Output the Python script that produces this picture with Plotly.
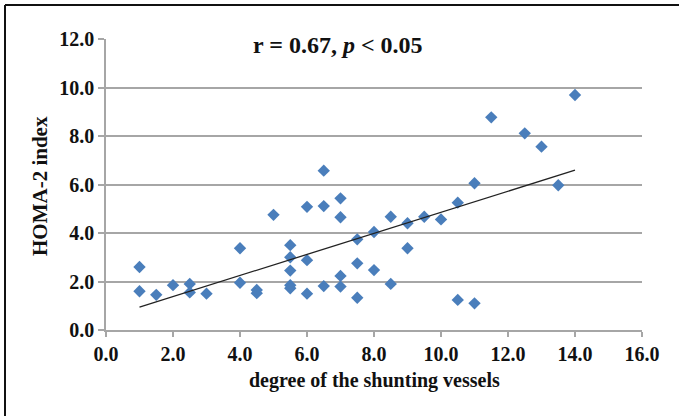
import numpy as np
import plotly.graph_objects as go

# degree of the shunting vessels
x_vals = [1, 1, 1.5, 2, 2.5, 2.5, 3, 4, 4, 4.5, 4.5, 5, 5.5, 5.5, 5.5, 5.5, 5.5,
          6, 6, 6, 6.5, 6.5, 6.5, 7, 7, 7, 7, 7.5, 7.5, 7.5, 8, 8, 8.5, 8.5,
          9, 9, 9.5, 10, 10.5, 10.5, 11, 11, 11.5, 12.5, 13, 13.5, 14]
# HOMA-2 index
y_vals = [2.6, 1.6, 1.45, 1.85, 1.9, 1.55, 1.5, 3.37, 1.95, 1.65, 1.52, 4.75, 3.5, 3.0, 2.45, 1.85, 1.72,
          5.08, 2.88, 1.5, 6.57, 5.11, 1.81, 5.43, 4.65, 2.23, 1.79, 3.74, 2.75, 1.33, 4.04, 2.47, 4.67, 1.9,
          4.4, 3.37, 4.67, 4.56, 5.25, 1.24, 6.05, 1.1, 8.77, 8.11, 7.56, 5.97, 9.69]

x_ticks = [0, 2, 4, 6, 8, 10, 12, 14, 16]
y_ticks = [0, 2, 4, 6, 8, 10, 12]

slope, intercept = np.polyfit(x_vals, y_vals, 1)
trend_x = [min(x_vals), max(x_vals)]
trend_y = [slope * v + intercept for v in trend_x]

font_fam = "Liberation Serif"
txt_col = "#111111"
grid_col = "#a6a6a6"

# plot area in pixels
L, R, T, B = 106, 642, 39, 330
W, H = R - L, B - T

def px_x(p):
    return (p - L) / W

def px_y(p):
    return (B - p) / H

fig = go.Figure()
fig.add_trace(go.Scatter(
    x=x_vals, y=y_vals, mode="markers",
    marker=dict(symbol="diamond", size=9.5, color="#4a7ebb"),
    showlegend=False, hoverinfo="skip"))
fig.add_trace(go.Scatter(
    x=trend_x, y=trend_y, mode="lines",
    line=dict(color="#222222", width=1.3),
    showlegend=False, hoverinfo="skip"))

fig.update_layout(
    width=679, height=416,
    margin=dict(l=L, r=679 - R, t=T, b=416 - B),
    paper_bgcolor="white", plot_bgcolor="white",
    font=dict(family=font_fam, color=txt_col),
    xaxis=dict(
        range=[0, 16], tickvals=x_ticks,
        ticktext=[f"<b>{v:.1f}</b>" for v in x_ticks],
        showgrid=False, zeroline=False, automargin=False,
        showline=True, linecolor=grid_col, linewidth=1.5,
        ticks="outside", ticklen=5, tickcolor=grid_col, tickwidth=1.5,
        tickfont=dict(family=font_fam, size=20, color=txt_col),
    ),
    yaxis=dict(
        range=[0, 12], tickvals=y_ticks,
        ticktext=[f"<b>{v:.1f}</b>" for v in y_ticks],
        showgrid=True, gridcolor=grid_col, gridwidth=1.5,
        zeroline=False, automargin=False,
        showline=True, linecolor=grid_col, linewidth=1.5,
        ticks="outside", ticklen=6, tickcolor=grid_col, tickwidth=1.5,
        tickfont=dict(family=font_fam, size=20, color=txt_col),
    ),
    annotations=[
        dict(text="<b>r = 0.67, <i>p</i> < 0.05</b>",
             x=px_x(338), y=px_y(45), xref="paper", yref="paper",
             xanchor="center", yanchor="middle", showarrow=False,
             font=dict(family=font_fam, size=24, color=txt_col)),
        dict(text="<b>degree of the shunting vessels</b>",
             x=px_x(374), y=px_y(380), xref="paper", yref="paper",
             xanchor="center", yanchor="middle", showarrow=False,
             font=dict(family=font_fam, size=20, color=txt_col)),
        dict(text="<b>HOMA-2 index</b>", textangle=-90,
             x=px_x(40), y=px_y(186), xref="paper", yref="paper",
             xanchor="center", yanchor="middle", showarrow=False,
             font=dict(family=font_fam, size=21, color=txt_col)),
    ],
    shapes=[
        dict(type="line", xref="paper", yref="paper",
             x0=px_x(5), x1=px_x(679), y0=px_y(5), y1=px_y(5),
             line=dict(color="#111111", width=2)),
        dict(type="line", xref="paper", yref="paper",
             x0=px_x(5), x1=px_x(5), y0=px_y(5), y1=px_y(416),
             line=dict(color="#111111", width=2)),
    ],
)

fig.write_html("out.html",
               config={"displayModeBar": False},
               post_script="document.body.style.margin='0';document.body.style.overflow='hidden';")
